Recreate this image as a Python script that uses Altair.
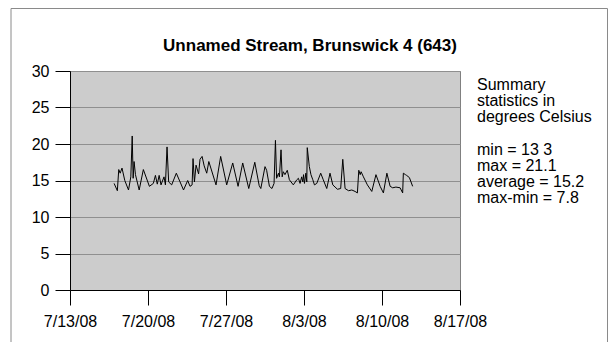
import altair as alt
import pandas as pd

# ---- data ----
times = [
    "2008-07-16T23:00", "2008-07-17T06:00", "2008-07-17T09:00", "2008-07-17T12:00",
    "2008-07-17T16:00", "2008-07-17T22:00", "2008-07-18T06:00", "2008-07-18T11:00",
    "2008-07-18T14:00", "2008-07-18T16:00", "2008-07-18T18:00", "2008-07-18T21:00",
    "2008-07-19T05:00", "2008-07-19T14:00", "2008-07-20T03:00", "2008-07-20T11:30",
    "2008-07-20T16:00", "2008-07-20T20:00", "2008-07-21T00:00", "2008-07-21T04:00",
    "2008-07-21T10:30", "2008-07-21T13:30", "2008-07-21T17:00", "2008-07-21T20:30",
    "2008-07-22T03:00", "2008-07-22T13:00", "2008-07-23T04:30", "2008-07-23T13:30",
    "2008-07-23T18:30", "2008-07-23T23:00", "2008-07-24T01:00", "2008-07-24T04:00",
    "2008-07-24T07:30", "2008-07-24T13:00", "2008-07-24T16:00", "2008-07-24T20:30",
    "2008-07-25T01:00", "2008-07-25T06:30", "2008-07-25T11:00", "2008-07-26T02:30",
    "2008-07-26T12:30", "2008-07-27T01:30", "2008-07-27T14:30", "2008-07-28T02:00",
    "2008-07-28T12:00", "2008-07-29T01:00", "2008-07-29T14:00", "2008-07-29T23:30",
    "2008-07-30T03:00", "2008-07-30T12:00", "2008-07-30T15:30", "2008-07-30T21:30",
    "2008-07-31T03:00", "2008-07-31T07:30", "2008-07-31T10:30", "2008-07-31T13:00",
    "2008-07-31T17:00", "2008-07-31T19:00", "2008-07-31T22:30", "2008-08-01T01:00",
    "2008-08-01T03:30", "2008-08-01T07:00", "2008-08-01T12:00", "2008-08-01T16:30",
    "2008-08-02T01:00", "2008-08-02T08:30", "2008-08-02T12:00", "2008-08-02T15:30",
    "2008-08-02T19:00", "2008-08-02T21:30", "2008-08-02T23:00", "2008-08-03T01:00",
    "2008-08-03T04:00", "2008-08-03T06:00", "2008-08-03T07:00", "2008-08-03T11:30",
    "2008-08-03T15:00", "2008-08-03T19:00", "2008-08-03T22:30", "2008-08-04T03:30",
    "2008-08-04T12:00", "2008-08-04T17:30", "2008-08-05T01:00", "2008-08-05T08:00",
    "2008-08-05T14:00", "2008-08-06T00:00", "2008-08-06T07:00", "2008-08-06T11:30",
    "2008-08-06T16:30", "2008-08-07T00:00", "2008-08-07T07:00", "2008-08-07T14:00",
    "2008-08-07T19:00", "2008-08-07T22:00", "2008-08-08T01:00", "2008-08-08T03:00",
    "2008-08-08T08:00", "2008-08-08T16:30", "2008-08-09T02:00", "2008-08-09T11:00",
    "2008-08-09T20:00", "2008-08-10T03:00", "2008-08-10T10:30", "2008-08-10T17:30",
    "2008-08-10T23:00", "2008-08-11T06:00", "2008-08-11T15:00", "2008-08-11T20:30",
    "2008-08-11T22:00", "2008-08-12T02:30", "2008-08-12T05:00", "2008-08-12T11:00",
    "2008-08-12T18:00",
]
temps = [
    14.6, 13.6, 16.5, 16.0,
    16.7, 15.0, 13.7, 15.5,
    21.1, 15.3, 17.6, 15.8,
    13.7, 16.5, 14.2, 14.6,
    15.7, 14.5, 15.7, 14.4,
    15.5, 14.4, 19.6, 14.8,
    14.4, 16.0, 13.7, 15.0,
    14.2, 14.4, 18.0, 14.8,
    17.1, 15.9, 17.9, 18.3,
    17.0, 16.0, 17.6, 14.4,
    18.3, 14.4, 17.4, 14.2,
    17.4, 13.9, 17.5, 14.3,
    13.9, 16.9, 16.4, 14.2,
    13.9, 14.6, 20.5, 15.3,
    16.0, 15.5, 19.2, 15.5,
    16.2, 15.8, 16.4, 15.1,
    14.4, 15.1, 15.3, 14.6,
    15.5, 14.8, 15.8, 14.6,
    16.0, 14.8, 19.5, 16.9,
    15.8, 15.1, 14.4, 14.6,
    16.0, 15.1, 13.9, 16.0,
    14.4, 13.8, 13.9, 17.9,
    13.9, 13.6, 13.7, 13.5,
    13.3, 16.4, 15.8, 16.2,
    15.5, 14.4, 13.5, 15.8,
    14.2, 13.3, 16.0, 14.2,
    14.0, 14.1, 14.0, 13.3,
    16.0, 15.8, 15.7, 15.4,
    14.2,
]
x_tick_dates = [(2008, 7, 13), (2008, 7, 20), (2008, 7, 27), (2008, 8, 3), (2008, 8, 10), (2008, 8, 17)]
y_ticks = [0, 5, 10, 15, 20, 25, 30]
title_text = "Unnamed Stream, Brunswick 4 (643)"
stats_heading = ["Summary", "statistics in", "degrees Celsius"]
stats_values = ["min = 13 3", "max = 21.1", "average = 15.2", "max-min = 7.8"]

FONT = "Liberation Sans"

df = pd.DataFrame({"time": times, "temp": temps})

def dt(t):
    return alt.DateTime(year=t[0], month=t[1], date=t[2])

x_scale = alt.Scale(domain=[dt(x_tick_dates[0]), dt(x_tick_dates[-1])], nice=False)
y_scale = alt.Scale(domain=[y_ticks[0], y_ticks[-1]], nice=False)

line = alt.Chart(df).mark_line(color="black", strokeWidth=1.0).encode(
    x=alt.X("time:T", scale=x_scale, title=None,
            axis=alt.Axis(values=[dt(t) for t in x_tick_dates], format="%-m/%-d/%y",
                          grid=False, labelFlush=False, labelOverlap=False, labelPadding=8)),
    y=alt.Y("temp:Q", scale=y_scale, title=None,
            axis=alt.Axis(values=y_ticks, grid=True, gridColor="#8f8f8f", gridWidth=1)),
)

one = alt.Data(values=[{"k": 1}])

frame = alt.Chart(one).mark_rect(fill="transparent", stroke="#8a8a8a", strokeWidth=1).encode(
    x=alt.value(-59), x2=alt.value(537.5), y=alt.value(-62.5), y2=alt.value(300)
)

title = alt.Chart(one).mark_text(
    text=title_text, font=FONT, fontSize=17, fontWeight="bold", color="black",
    align="center", baseline="middle"
).encode(x=alt.value(240), y=alt.value(-25))

stats1 = alt.Chart(one).mark_text(
    text=stats_heading, font=FONT, fontSize=16, color="black",
    align="left", baseline="top", lineHeight=16
).encode(x=alt.value(407), y=alt.value(6))

stats2 = alt.Chart(one).mark_text(
    text=stats_values, font=FONT, fontSize=16, color="black",
    align="left", baseline="top", lineHeight=16
).encode(x=alt.value(407), y=alt.value(71))

chart = alt.layer(frame, line, title, stats1, stats2).properties(
    width=390, height=219,
    autosize=alt.AutoSizeParams(type="none"),
    padding={"left": 62, "top": 63, "right": 148, "bottom": 52},
    background="white",
).configure_view(
    fill="#cccccc", stroke="#808080", strokeWidth=1
).configure_axis(
    labelFont=FONT, labelFontSize=16, labelColor="black",
    domainColor="black", domainWidth=1, tickColor="black", tickSize=15,
    labelPadding=6,
)

chart.save("out.html", embed_options={"renderer": "svg", "actions": False})
